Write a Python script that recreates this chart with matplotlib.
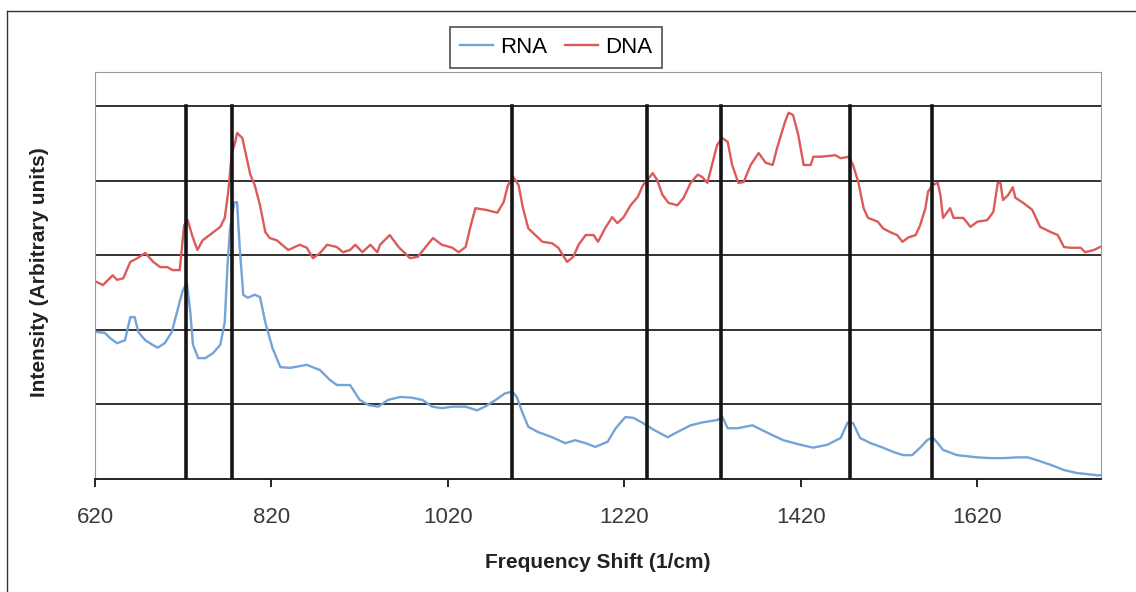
import numpy as np
import matplotlib.pyplot as plt
from matplotlib.lines import Line2D

plt.rcParams['font.family'] = ['Liberation Sans', 'DejaVu Sans']

# DNA spectrum (red), frequency shift in 1/cm and intensity (arbitrary)
dna_x = [622, 629, 640, 645, 652, 660, 668, 677, 686, 694, 702, 708, 716, 721, 725,
         730, 736, 742, 753, 762, 767, 771, 775, 779, 781, 787, 792, 796, 801, 807,
         813, 818, 826, 832, 839, 852, 860, 867, 875, 883, 894, 901, 909, 915, 923,
         932, 940, 943, 954, 964, 977, 986, 994, 1003, 1013, 1025, 1032, 1040, 1045,
         1051, 1062, 1076, 1083, 1088, 1094, 1100, 1105, 1111, 1119, 1127, 1138, 1145,
         1155, 1162, 1168, 1176, 1185, 1190, 1198, 1206, 1212, 1219, 1227, 1235, 1241,
         1252, 1257, 1263, 1270, 1280, 1287, 1295, 1303, 1308, 1314, 1320, 1325, 1331,
         1337, 1342, 1349, 1355, 1363, 1372, 1380, 1388, 1393, 1402, 1406, 1411, 1417,
         1423, 1431, 1434, 1442, 1459, 1465, 1474, 1479, 1485, 1491, 1496, 1507, 1513,
         1521, 1529, 1535, 1542, 1550, 1555, 1561, 1564, 1569, 1575, 1578, 1581, 1589,
         1593, 1604, 1612, 1620, 1631, 1638, 1643, 1646, 1649, 1655, 1660, 1663, 1672,
         1682, 1691, 1703, 1711, 1718, 1725, 1737, 1742, 1752, 1759]
dna_y = [2.64, 2.60, 2.73, 2.67, 2.69, 2.91, 2.96, 3.03, 2.91, 2.84, 2.84, 2.80, 2.80, 3.40, 3.47,
         3.27, 3.07, 3.20, 3.30, 3.38, 3.50, 3.85, 4.37, 4.52, 4.64, 4.57, 4.30, 4.08, 3.94, 3.67,
         3.31, 3.23, 3.20, 3.14, 3.07, 3.14, 3.10, 2.96, 3.03, 3.14, 3.11, 3.04, 3.07, 3.14, 3.04,
         3.14, 3.04, 3.14, 3.27, 3.11, 2.96, 2.98, 3.10, 3.23, 3.14, 3.10, 3.04, 3.11, 3.36,
         3.63, 3.61, 3.57, 3.71, 3.94, 4.05, 3.94, 3.63, 3.36, 3.27, 3.18, 3.16, 3.10,
         2.91, 2.98, 3.14, 3.27, 3.27, 3.18, 3.36, 3.51, 3.43, 3.51, 3.67, 3.78, 3.94,
         4.10, 4.01, 3.81, 3.70, 3.67, 3.77, 3.97, 4.08, 4.05, 3.97, 4.25, 4.48, 4.57,
         4.52, 4.21, 3.97, 3.98, 4.21, 4.37, 4.24, 4.21, 4.44, 4.79, 4.91, 4.88, 4.61,
         4.21, 4.21, 4.32, 4.32, 4.34, 4.30, 4.32, 4.21, 3.98, 3.63, 3.50, 3.45, 3.36,
         3.31, 3.27, 3.18, 3.24, 3.27, 3.40, 3.63, 3.85, 3.94, 3.97, 3.81, 3.50, 3.63,
         3.50, 3.50, 3.38, 3.45, 3.47, 3.58, 3.97, 3.97, 3.74, 3.81, 3.91, 3.77, 3.70,
         3.61, 3.38, 3.31, 3.27, 3.11, 3.10, 3.10, 3.04, 3.07, 3.11]

# RNA spectrum (blue)
rna_x = [622, 631, 637, 645, 654, 660, 665, 669, 677, 685, 691, 699, 707, 713, 719,
         724, 728, 731, 737, 745, 754, 762, 767, 770, 773, 778, 781, 784, 788, 793,
         801, 807, 813, 821, 830, 841, 860, 875, 886, 894, 909, 920, 930, 941, 952,
         966, 979, 991, 1002, 1013, 1025, 1040, 1053, 1062, 1074, 1085, 1093, 1098, 1104,
         1111, 1122, 1138, 1153, 1164, 1176, 1187, 1201, 1210, 1221, 1230, 1241, 1253,
         1269, 1280, 1295, 1309, 1325, 1331, 1337, 1348, 1365, 1382, 1400, 1419, 1434,
         1450, 1465, 1473, 1479, 1487, 1499, 1513, 1525, 1536, 1546, 1555, 1563, 1569,
         1575, 1581, 1597, 1620, 1635, 1650, 1665, 1677, 1688, 1703, 1718, 1733, 1756, 1759]
rna_y = [1.97, 1.96, 1.89, 1.82, 1.86, 2.17, 2.17, 1.97, 1.86, 1.80, 1.76, 1.82, 1.97, 2.24, 2.51,
         2.64, 2.24, 1.80, 1.62, 1.62, 1.69, 1.80, 2.10, 2.83, 3.36, 3.71, 3.71, 3.10, 2.47, 2.43,
         2.47, 2.44, 2.10, 1.76, 1.50, 1.49, 1.53, 1.46, 1.33, 1.26, 1.26, 1.06, 0.99, 0.97, 1.06,
         1.10, 1.09, 1.06, 0.97, 0.95, 0.97, 0.97, 0.92, 0.97, 1.06, 1.15, 1.17, 1.10, 0.90,
         0.70, 0.63, 0.56, 0.48, 0.52, 0.48, 0.43, 0.50, 0.68, 0.83, 0.82, 0.75, 0.66,
         0.56, 0.63, 0.72, 0.76, 0.79, 0.83, 0.68, 0.68, 0.72, 0.62, 0.52, 0.46, 0.42,
         0.46, 0.55, 0.76, 0.75, 0.55, 0.48, 0.42, 0.36, 0.32, 0.32, 0.42, 0.52, 0.56,
         0.48, 0.39, 0.32, 0.29, 0.28, 0.28, 0.29, 0.29, 0.25, 0.19, 0.12, 0.08, 0.05, 0.05]

# marked peak positions
peaks = [723, 775, 1092, 1246, 1329, 1476, 1568]
xticks = [620, 820, 1020, 1220, 1420, 1620]

fig = plt.figure(figsize=(11.36, 5.92), dpi=100)
ax = fig.add_axes([95 / 1136, 1 - 479 / 592, 1006 / 1136, 407 / 592])

ax.plot(rna_x, rna_y, color='#74a3d8', lw=1.7, label='RNA')
ax.plot(dna_x, dna_y, color='#dd5a5a', lw=1.7, label='DNA')

for p in peaks:
    ax.plot([p, p], [0, 5], color='#151515', lw=2.6, zorder=3)

ax.set_xlim(620, 1760)
ax.set_ylim(0, 5.456)
ax.set_yticks([1, 2, 3, 4, 5])
ax.yaxis.grid(True, color='#222222', lw=1.3)
ax.set_axisbelow(True)
ax.tick_params(axis='y', left=False, labelleft=False)
ax.set_xticks(xticks)
ax.tick_params(axis='x', direction='out', length=6, width=1.2, pad=14,
               labelsize=16, labelcolor='#3a3a3a')

for s in ['top', 'left', 'right']:
    ax.spines[s].set_color('#999999')
    ax.spines[s].set_linewidth(0.8)
ax.spines['bottom'].set_color('#222222')
ax.spines['bottom'].set_linewidth(1.4)

fig.text(598 / 1136, 1 - 562 / 592, 'Frequency Shift (1/cm)', fontsize=15,
         fontweight='bold', ha='center', va='center', color='#222222')
fig.text(40 / 1136, 1 - 272 / 592, 'Intensity (Arbitrary units)', fontsize=15,
         fontweight='bold', rotation=90, ha='center', va='center', color='#222222')

leg = ax.legend(loc='center', bbox_to_anchor=(556 / 1136, 1 - 47.5 / 592),
                bbox_transform=fig.transFigure, ncol=2, fontsize=16, frameon=True,
                fancybox=False, edgecolor='#222222', handlelength=1.5,
                handletextpad=0.3, columnspacing=0.8, borderpad=0.45)
leg.get_frame().set_linewidth(1.2)

# outer chart frame (top and left edges)
fig.add_artist(Line2D([7 / 1136, 1.0], [1 - 11 / 592] * 2, color='#333333', lw=1))
fig.add_artist(Line2D([7 / 1136] * 2, [0, 1 - 11 / 592], color='#333333', lw=1))

fig.savefig('out.png', dpi=100)
